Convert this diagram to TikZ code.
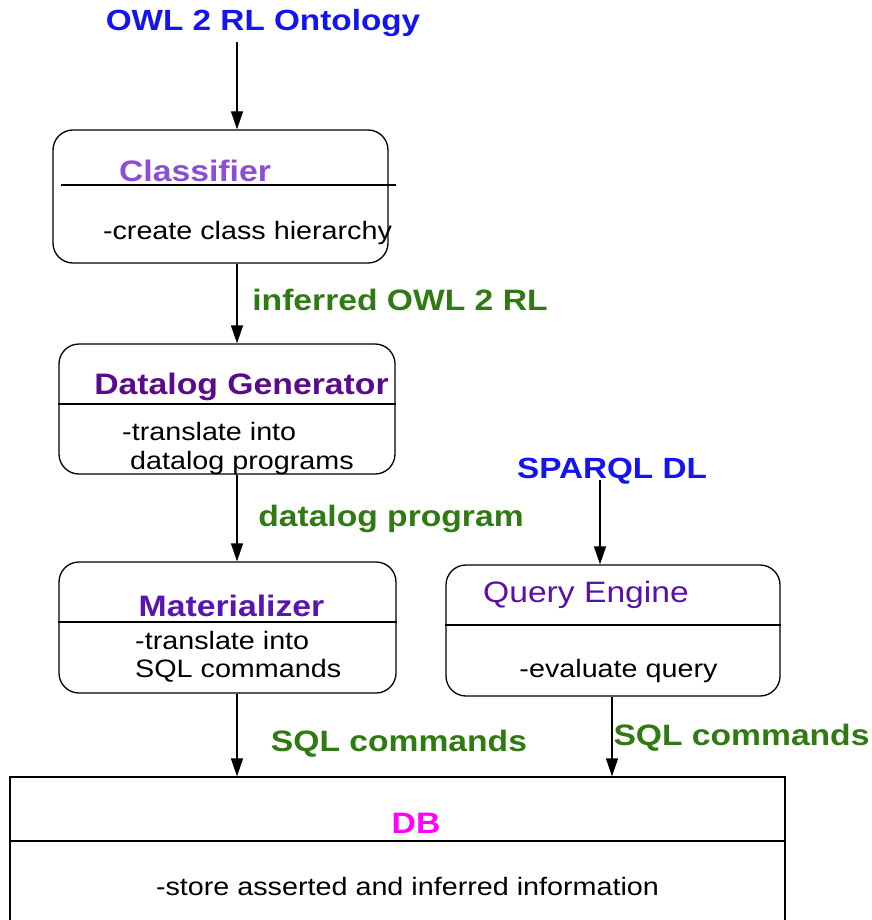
\documentclass[tikz,border=0pt]{standalone}
\usepackage{fontspec}
\setmainfont[FakeStretch=1.14]{Liberation Sans}
\usetikzlibrary{arrows.meta}
\definecolor{owlblue}{HTML}{1414F0}
\definecolor{lblgreen}{HTML}{2F7A12}
\definecolor{clspurple}{HTML}{8A4FD6}
\definecolor{dgpurple}{HTML}{5A0A8C}
\definecolor{matpurple}{HTML}{5A14B0}
\definecolor{qepurple}{HTML}{5A10A8}
\definecolor{dbmagenta}{HTML}{FF00FF}
\tikzset{
  rbox/.style={draw, line width=1.3pt, rounded corners=20pt, inner sep=0pt},
  sbox/.style={draw, line width=1.3pt, inner sep=0pt},
  divider/.style={line width=1.3pt},
  arr/.style={line width=1.3pt, -{Triangle[length=18pt,width=12pt]}},
  bigblue/.style={text=owlblue, font=\fontsize{29.2}{33}\selectfont\bfseries, inner sep=0pt},
  green/.style={text=lblgreen, font=\fontsize{29.5}{33}\selectfont\bfseries, inner sep=0pt},
  title/.style={font=\fontsize{29.6}{33}\selectfont\bfseries, inner sep=0pt},
  body/.style={font=\fontsize{25.2}{29}\selectfont, inner sep=0pt}
}
\begin{document}
\begin{tikzpicture}[x=1pt,y=-1pt]
\clip (0,0) rectangle (871,920);
\fill[white] (0,0) rectangle (871,920);
% boxes
\node[rbox, minimum width=335pt, minimum height=133pt] (cls) at (220.5,196.5) {};
\node[rbox, minimum width=336pt, minimum height=130pt] (dg) at (227,409) {};
\node[rbox, minimum width=337pt, minimum height=131pt] (mat) at (227.5,627.5) {};
\node[rbox, minimum width=334pt, minimum height=131pt] (qe) at (613,630.5) {};
\node[sbox, minimum width=775pt, minimum height=170pt] (db) at (397.5,862) {};
% dividers
\draw[divider] (61,185) -- (396,185);
\draw[divider] (dg.west |- 0,404) -- (dg.east |- 0,404);
\draw[divider] (mat.west |- 0,622) -- (mat.east |- 0,622);
\draw[divider] (qe.west |- 0,625) -- (qe.east |- 0,625);
\draw[divider] (db.west |- 0,841) -- (db.east |- 0,841);
% box texts
\node[title, text=clspurple] (clsT) at (195,171) {Classifier};
\node[body] (clsB) at (247.5,233) {-create class hierarchy};
\node[title, text=dgpurple] (dgT) at (241.5,387) {Datalog Generator};
\node[body, anchor=west] (dgB1) at (122,431) {-translate into};
\node[body, anchor=west] (dgB2) at (130,463) {datalog programs};
\node[title, text=matpurple] (matT) at (231.5,606) {Materializer};
\node[body, anchor=west] (matB1) at (135,640) {-translate into};
\node[body, anchor=west] (matB2) at (135,671) {SQL commands};
\node[body, text=qepurple, font=\fontsize{29.5}{33}\selectfont] (qeT) at (586,595) {Query Engine};
\node[body] (qeB) at (618.5,671) {-evaluate query};
\node[title, text=dbmagenta] (dbT) at (416,823) {DB};
\node[body] (dbB) at (407.5,886) {-store asserted and inferred information};
% free labels
\node[bigblue] (owl) at (263,23) {OWL 2 RL Ontology};
\node[bigblue] (sparql) at (612,471) {SPARQL DL};
\node[green] (l1) at (400,300) {inferred OWL 2 RL};
\node[green] (l2) at (391,519) {datalog program};
\node[green] (l3) at (399,744) {SQL commands};
\node[green] (l4) at (741.5,738) {SQL commands};
% connectors
\coordinate (owlS) at (237,42);
\coordinate (spS) at (600,480);
\draw[arr] (owlS) -- (owlS |- cls.north);
\draw[arr] (cls.south -| owlS) -- (dg.north -| owlS);
\draw[arr] (dg.south -| owlS) -- (mat.north -| owlS);
\draw[arr] (spS) -- (spS |- qe.north);
\draw[arr] (mat.south -| owlS) -- (db.north -| owlS);
\coordinate (qeS) at (612,0);
\draw[arr] (qe.south -| qeS) -- (db.north -| qeS);
\end{tikzpicture}
\end{document}
